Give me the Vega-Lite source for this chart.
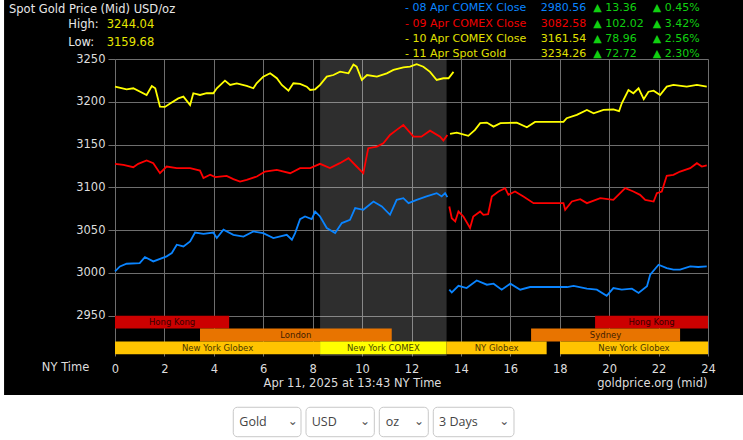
{
"$schema":"https://vega.github.io/schema/vega-lite/v6.json",
"width":593,"height":297,
"autosize":{"type":"none"},
"padding":{"left":115,"top":59,"right":35,"bottom":84},
"background":"black",
"config":{"view":{"stroke":null},"font":"DejaVu Sans","text":{"font":"DejaVu Sans","baseline":"middle","align":"left"}},
"datasets":{
"one":[{}],
"lines":[
{"w":"08 Apr","p":"pm","h":13.53,"v":2980.5},{"w":"08 Apr","p":"pm","h":13.63,"v":2977.3},{"w":"08 Apr","p":"pm","h":13.9,"v":2985},{"w":"08 Apr","p":"pm","h":14.23,"v":2982.4},{"w":"08 Apr","p":"pm","h":14.64,"v":2991.3},{"w":"08 Apr","p":"pm","h":15.05,"v":2986.3},{"w":"08 Apr","p":"pm","h":15.32,"v":2987.5},{"w":"08 Apr","p":"pm","h":15.65,"v":2980.5},{"w":"08 Apr","p":"pm","h":16.0,"v":2987.5},{"w":"08 Apr","p":"pm","h":16.4,"v":2980.5},{"w":"08 Apr","p":"pm","h":16.8,"v":2983.6},{"w":"08 Apr","p":"pm","h":18.3,"v":2983.6},{"w":"08 Apr","p":"pm","h":18.56,"v":2985},{"w":"08 Apr","p":"pm","h":19.1,"v":2981.7},{"w":"08 Apr","p":"pm","h":19.5,"v":2980.5},{"w":"08 Apr","p":"pm","h":19.9,"v":2973.4},{"w":"08 Apr","p":"pm","h":20.17,"v":2982.4},{"w":"08 Apr","p":"pm","h":20.51,"v":2980.5},{"w":"08 Apr","p":"pm","h":20.92,"v":2981.7},{"w":"08 Apr","p":"pm","h":21.19,"v":2976.6},{"w":"08 Apr","p":"pm","h":21.53,"v":2984.4},{"w":"08 Apr","p":"pm","h":21.66,"v":2998},{"w":"08 Apr","p":"pm","h":22.0,"v":3009.6},{"w":"08 Apr","p":"pm","h":22.33,"v":3005.7},{"w":"08 Apr","p":"pm","h":22.6,"v":3003.8},{"w":"08 Apr","p":"pm","h":22.87,"v":3003.8},{"w":"08 Apr","p":"pm","h":23.28,"v":3007.6},{"w":"08 Apr","p":"pm","h":23.6,"v":3007},{"w":"08 Apr","p":"pm","h":23.95,"v":3007.6},
{"w":"08 Apr","p":"am","h":0,"v":3001.8},{"w":"08 Apr","p":"am","h":0.2,"v":3007.6},{"w":"08 Apr","p":"am","h":0.47,"v":3010.8},{"w":"08 Apr","p":"am","h":1.0,"v":3011.5},{"w":"08 Apr","p":"am","h":1.21,"v":3018.6},{"w":"08 Apr","p":"am","h":1.55,"v":3013.5},{"w":"08 Apr","p":"am","h":2.09,"v":3019.4},{"w":"08 Apr","p":"am","h":2.3,"v":3023.3},{"w":"08 Apr","p":"am","h":2.5,"v":3033},{"w":"08 Apr","p":"am","h":2.77,"v":3031},{"w":"08 Apr","p":"am","h":3.04,"v":3036.8},{"w":"08 Apr","p":"am","h":3.24,"v":3047.3},{"w":"08 Apr","p":"am","h":3.58,"v":3045.8},{"w":"08 Apr","p":"am","h":3.98,"v":3047.3},{"w":"08 Apr","p":"am","h":4.12,"v":3040.8},{"w":"08 Apr","p":"am","h":4.39,"v":3050.5},{"w":"08 Apr","p":"am","h":4.79,"v":3044.6},{"w":"08 Apr","p":"am","h":5.2,"v":3042.6},{"w":"08 Apr","p":"am","h":5.6,"v":3048.5},{"w":"08 Apr","p":"am","h":6.0,"v":3046.6},{"w":"08 Apr","p":"am","h":6.41,"v":3040.8},{"w":"08 Apr","p":"am","h":6.95,"v":3044.6},{"w":"08 Apr","p":"am","h":7.16,"v":3038.8},{"w":"08 Apr","p":"am","h":7.29,"v":3046.6},{"w":"08 Apr","p":"am","h":7.49,"v":3062.9},{"w":"08 Apr","p":"am","h":7.69,"v":3066},{"w":"08 Apr","p":"am","h":7.96,"v":3062.9},{"w":"08 Apr","p":"am","h":8.1,"v":3071.8},{"w":"08 Apr","p":"am","h":8.3,"v":3066},{"w":"08 Apr","p":"am","h":8.57,"v":3052.5},{"w":"08 Apr","p":"am","h":8.91,"v":3046.6},{"w":"08 Apr","p":"am","h":9.18,"v":3058.3},{"w":"08 Apr","p":"am","h":9.51,"v":3062.1},{"w":"08 Apr","p":"am","h":9.72,"v":3075.8},{"w":"08 Apr","p":"am","h":10.05,"v":3073.8},{"w":"08 Apr","p":"am","h":10.46,"v":3083.5},{"w":"08 Apr","p":"am","h":10.8,"v":3077.7},{"w":"08 Apr","p":"am","h":11.13,"v":3068},{"w":"08 Apr","p":"am","h":11.4,"v":3085.5},{"w":"08 Apr","p":"am","h":11.67,"v":3087.4},{"w":"08 Apr","p":"am","h":11.88,"v":3081.6},{"w":"08 Apr","p":"am","h":12.21,"v":3085.5},{"w":"08 Apr","p":"am","h":12.61,"v":3089.4},{"w":"08 Apr","p":"am","h":13.02,"v":3093.3},{"w":"08 Apr","p":"am","h":13.22,"v":3089.4},{"w":"08 Apr","p":"am","h":13.36,"v":3093.3},{"w":"08 Apr","p":"am","h":13.45,"v":3088.6},
{"w":"09 Apr","p":"pm","h":13.53,"v":3077.7},{"w":"09 Apr","p":"pm","h":13.63,"v":3064},{"w":"09 Apr","p":"pm","h":13.77,"v":3060.2},{"w":"09 Apr","p":"pm","h":13.9,"v":3071.8},{"w":"09 Apr","p":"pm","h":14.1,"v":3066},{"w":"09 Apr","p":"pm","h":14.37,"v":3052.5},{"w":"09 Apr","p":"pm","h":14.5,"v":3066},{"w":"09 Apr","p":"pm","h":14.78,"v":3071.8},{"w":"09 Apr","p":"pm","h":14.91,"v":3068},{"w":"09 Apr","p":"pm","h":15.1,"v":3068.7},{"w":"09 Apr","p":"pm","h":15.25,"v":3089.4},{"w":"09 Apr","p":"pm","h":15.52,"v":3095.2},{"w":"09 Apr","p":"pm","h":15.79,"v":3099.1},{"w":"09 Apr","p":"pm","h":15.92,"v":3091.3},{"w":"09 Apr","p":"pm","h":16.19,"v":3095.2},{"w":"09 Apr","p":"pm","h":16.53,"v":3089.4},{"w":"09 Apr","p":"pm","h":16.94,"v":3081.6},{"w":"09 Apr","p":"pm","h":18.15,"v":3081.6},{"w":"09 Apr","p":"pm","h":18.22,"v":3073.8},{"w":"09 Apr","p":"pm","h":18.49,"v":3083.5},{"w":"09 Apr","p":"pm","h":18.83,"v":3086.3},{"w":"09 Apr","p":"pm","h":19.1,"v":3081.6},{"w":"09 Apr","p":"pm","h":19.64,"v":3087.4},{"w":"09 Apr","p":"pm","h":20.17,"v":3085.5},{"w":"09 Apr","p":"pm","h":20.65,"v":3099.1},{"w":"09 Apr","p":"pm","h":20.98,"v":3095.2},{"w":"09 Apr","p":"pm","h":21.25,"v":3091.3},{"w":"09 Apr","p":"pm","h":21.46,"v":3085.5},{"w":"09 Apr","p":"pm","h":21.8,"v":3083.5},{"w":"09 Apr","p":"pm","h":21.93,"v":3093.3},{"w":"09 Apr","p":"pm","h":22.13,"v":3095.2},{"w":"09 Apr","p":"pm","h":22.33,"v":3113.5},{"w":"09 Apr","p":"pm","h":22.6,"v":3114.7},{"w":"09 Apr","p":"pm","h":22.87,"v":3118.5},{"w":"09 Apr","p":"pm","h":23.28,"v":3122.5},{"w":"09 Apr","p":"pm","h":23.55,"v":3128.3},{"w":"09 Apr","p":"pm","h":23.75,"v":3124.4},{"w":"09 Apr","p":"pm","h":23.95,"v":3125.8},
{"w":"09 Apr","p":"am","h":0,"v":3127.5},{"w":"09 Apr","p":"am","h":0.34,"v":3126.3},{"w":"09 Apr","p":"am","h":0.74,"v":3123.6},{"w":"09 Apr","p":"am","h":0.94,"v":3127.5},{"w":"09 Apr","p":"am","h":1.28,"v":3131.4},{"w":"09 Apr","p":"am","h":1.55,"v":3128.3},{"w":"09 Apr","p":"am","h":1.82,"v":3116.6},{"w":"09 Apr","p":"am","h":2.09,"v":3124.4},{"w":"09 Apr","p":"am","h":2.5,"v":3122.5},{"w":"09 Apr","p":"am","h":3.04,"v":3122.5},{"w":"09 Apr","p":"am","h":3.44,"v":3119.7},{"w":"09 Apr","p":"am","h":3.58,"v":3110.8},{"w":"09 Apr","p":"am","h":3.85,"v":3114.7},{"w":"09 Apr","p":"am","h":4.05,"v":3112},{"w":"09 Apr","p":"am","h":4.52,"v":3113.5},{"w":"09 Apr","p":"am","h":4.79,"v":3109.6},{"w":"09 Apr","p":"am","h":5.06,"v":3106.8},{"w":"09 Apr","p":"am","h":5.33,"v":3108.8},{"w":"09 Apr","p":"am","h":5.74,"v":3112.7},{"w":"09 Apr","p":"am","h":6.07,"v":3118.5},{"w":"09 Apr","p":"am","h":6.55,"v":3120.5},{"w":"09 Apr","p":"am","h":7.09,"v":3116.6},{"w":"09 Apr","p":"am","h":7.49,"v":3122.5},{"w":"09 Apr","p":"am","h":7.9,"v":3122.5},{"w":"09 Apr","p":"am","h":8.3,"v":3127.5},{"w":"09 Apr","p":"am","h":8.7,"v":3122.5},{"w":"09 Apr","p":"am","h":9.1,"v":3128.3},{"w":"09 Apr","p":"am","h":9.45,"v":3134.2},{"w":"09 Apr","p":"am","h":9.78,"v":3124.4},{"w":"09 Apr","p":"am","h":10.05,"v":3116.5},{"w":"09 Apr","p":"am","h":10.25,"v":3145.8},{"w":"09 Apr","p":"am","h":10.6,"v":3147.7},{"w":"09 Apr","p":"am","h":10.86,"v":3151.6},{"w":"09 Apr","p":"am","h":11.13,"v":3161.3},{"w":"09 Apr","p":"am","h":11.4,"v":3167.2},{"w":"09 Apr","p":"am","h":11.67,"v":3173},{"w":"09 Apr","p":"am","h":12.08,"v":3159.3},{"w":"09 Apr","p":"am","h":12.4,"v":3159.3},{"w":"09 Apr","p":"am","h":12.75,"v":3166.3},{"w":"09 Apr","p":"am","h":13.16,"v":3159.3},{"w":"09 Apr","p":"am","h":13.29,"v":3154.7},{"w":"09 Apr","p":"am","h":13.45,"v":3161.3},
{"w":"10 Apr","p":"pm","h":13.56,"v":3162.5},{"w":"10 Apr","p":"pm","h":13.83,"v":3164},{"w":"10 Apr","p":"pm","h":14.3,"v":3160.2},{"w":"10 Apr","p":"pm","h":14.57,"v":3167.2},{"w":"10 Apr","p":"pm","h":14.78,"v":3175},{"w":"10 Apr","p":"pm","h":15.05,"v":3175.7},{"w":"10 Apr","p":"pm","h":15.32,"v":3171},{"w":"10 Apr","p":"pm","h":15.6,"v":3175},{"w":"10 Apr","p":"pm","h":16.26,"v":3175.7},{"w":"10 Apr","p":"pm","h":16.67,"v":3170.3},{"w":"10 Apr","p":"pm","h":17.0,"v":3176.5},{"w":"10 Apr","p":"pm","h":18.15,"v":3176.5},{"w":"10 Apr","p":"pm","h":18.28,"v":3180.8},{"w":"10 Apr","p":"pm","h":18.69,"v":3184.7},{"w":"10 Apr","p":"pm","h":19.1,"v":3190.5},{"w":"10 Apr","p":"pm","h":19.37,"v":3186.6},{"w":"10 Apr","p":"pm","h":19.77,"v":3190.5},{"w":"10 Apr","p":"pm","h":20.17,"v":3191},{"w":"10 Apr","p":"pm","h":20.4,"v":3189},{"w":"10 Apr","p":"pm","h":20.51,"v":3198.3},{"w":"10 Apr","p":"pm","h":20.78,"v":3213.8},{"w":"10 Apr","p":"pm","h":20.98,"v":3210},{"w":"10 Apr","p":"pm","h":21.19,"v":3215.8},{"w":"10 Apr","p":"pm","h":21.4,"v":3203},{"w":"10 Apr","p":"pm","h":21.59,"v":3211.8},{"w":"10 Apr","p":"pm","h":21.8,"v":3213},{"w":"10 Apr","p":"pm","h":22.06,"v":3208},{"w":"10 Apr","p":"pm","h":22.33,"v":3217.7},{"w":"10 Apr","p":"pm","h":22.6,"v":3219.7},{"w":"10 Apr","p":"pm","h":23.14,"v":3217.7},{"w":"10 Apr","p":"pm","h":23.55,"v":3219.7},{"w":"10 Apr","p":"pm","h":23.95,"v":3217.7},
{"w":"10 Apr","p":"am","h":0,"v":3217.7},{"w":"10 Apr","p":"am","h":0.47,"v":3214.6},{"w":"10 Apr","p":"am","h":0.74,"v":3215.8},{"w":"10 Apr","p":"am","h":1.28,"v":3208},{"w":"10 Apr","p":"am","h":1.49,"v":3218.5},{"w":"10 Apr","p":"am","h":1.63,"v":3215.8},{"w":"10 Apr","p":"am","h":1.82,"v":3194.3},{"w":"10 Apr","p":"am","h":2.02,"v":3194},{"w":"10 Apr","p":"am","h":2.23,"v":3198},{"w":"10 Apr","p":"am","h":2.56,"v":3204},{"w":"10 Apr","p":"am","h":2.77,"v":3206},{"w":"10 Apr","p":"am","h":3.04,"v":3196.3},{"w":"10 Apr","p":"am","h":3.17,"v":3210},{"w":"10 Apr","p":"am","h":3.44,"v":3208},{"w":"10 Apr","p":"am","h":3.71,"v":3210},{"w":"10 Apr","p":"am","h":3.98,"v":3210},{"w":"10 Apr","p":"am","h":4.12,"v":3215.8},{"w":"10 Apr","p":"am","h":4.45,"v":3224.7},{"w":"10 Apr","p":"am","h":4.66,"v":3219.7},{"w":"10 Apr","p":"am","h":4.93,"v":3221.6},{"w":"10 Apr","p":"am","h":5.33,"v":3218.5},{"w":"10 Apr","p":"am","h":5.6,"v":3215.8},{"w":"10 Apr","p":"am","h":5.73,"v":3221.6},{"w":"10 Apr","p":"am","h":6.0,"v":3229.4},{"w":"10 Apr","p":"am","h":6.28,"v":3233.3},{"w":"10 Apr","p":"am","h":6.55,"v":3227.5},{"w":"10 Apr","p":"am","h":6.75,"v":3219.7},{"w":"10 Apr","p":"am","h":7.02,"v":3213},{"w":"10 Apr","p":"am","h":7.22,"v":3221.6},{"w":"10 Apr","p":"am","h":7.49,"v":3221},{"w":"10 Apr","p":"am","h":7.76,"v":3217.7},{"w":"10 Apr","p":"am","h":7.9,"v":3213.8},{"w":"10 Apr","p":"am","h":8.1,"v":3214.6},{"w":"10 Apr","p":"am","h":8.3,"v":3219.7},{"w":"10 Apr","p":"am","h":8.57,"v":3229.4},{"w":"10 Apr","p":"am","h":8.84,"v":3231.3},{"w":"10 Apr","p":"am","h":9.11,"v":3235.2},{"w":"10 Apr","p":"am","h":9.45,"v":3233.3},{"w":"10 Apr","p":"am","h":9.65,"v":3243.5},{"w":"10 Apr","p":"am","h":9.78,"v":3241},{"w":"10 Apr","p":"am","h":9.99,"v":3225.5},{"w":"10 Apr","p":"am","h":10.2,"v":3231.3},{"w":"10 Apr","p":"am","h":10.6,"v":3229.4},{"w":"10 Apr","p":"am","h":11.0,"v":3233.3},{"w":"10 Apr","p":"am","h":11.27,"v":3237.2},{"w":"10 Apr","p":"am","h":11.67,"v":3240.3},{"w":"10 Apr","p":"am","h":11.94,"v":3241},{"w":"10 Apr","p":"am","h":12.21,"v":3244},{"w":"10 Apr","p":"am","h":12.48,"v":3241},{"w":"10 Apr","p":"am","h":12.75,"v":3235},{"w":"10 Apr","p":"am","h":13.02,"v":3225.5},{"w":"10 Apr","p":"am","h":13.29,"v":3227.5},{"w":"10 Apr","p":"am","h":13.5,"v":3227.5},{"w":"10 Apr","p":"am","h":13.7,"v":3235}
],
"sessions":[
{"id":1,"name":"Hong Kong","row":"top","start":0,"end":4.62},
{"id":2,"name":"Hong Kong","row":"top","start":19.43,"end":24},
{"id":3,"name":"London","row":"mid","start":3.44,"end":11.2},
{"id":4,"name":"Sydney","row":"mid","start":16.84,"end":22.87},
{"id":5,"name":"New York Globex","row":"bottom","start":0,"end":8.3},
{"id":6,"name":"New York COMEX","row":"bottom","start":8.3,"end":13.42},
{"id":7,"name":"NY Globex","row":"bottom","start":13.42,"end":17.47},
{"id":8,"name":"New York Globex","row":"bottom","start":18.01,"end":24}
],
"legend":[
{"day":"08 Apr","label":"- 08 Apr COMEX Close","close":"2980.56","change":"▲ 13.36","pct":"▲ 0.45%"},
{"day":"09 Apr","label":"- 09 Apr COMEX Close","close":"3082.58","change":"▲ 102.02","pct":"▲ 3.42%"},
{"day":"10 Apr","label":"- 10 Apr COMEX Close","close":"3161.54","change":"▲ 78.96","pct":"▲ 2.56%"},
{"day":"11 Apr","label":"- 11 Apr Spot Gold","close":"3234.26","change":"▲ 72.72","pct":"▲ 2.30%"}
],
"stats":[
{"stat":"High:","value":"3244.04"},
{"stat":"Low:","value":"3159.68"}
]
},
"layer":[
{"data":{"name":"one"},"mark":{"type":"rect","fill":"#ffffff","opacity":0.18},
 "encoding":{"x":{"datum":8.3},"x2":{"datum":13.42}}},
{"data":{"name":"lines"},
 "mark":{"type":"line","strokeWidth":1.8,"interpolate":"linear"},
 "encoding":{
  "x":{"field":"h","type":"quantitative","title":null,"scale":{"domain":[0,24],"nice":false,"zero":false},
   "axis":{"values":[0,2,4,6,8,10,12,14,16,18,20,22,24],"grid":true,"gridColor":"#6e6e6e","gridWidth":1,"domain":false,"ticks":false,"labelPadding":7,"labelColor":"#dddddd","labelFont":"DejaVu Sans","labelFontSize":11.5,"labelFlush":false,"title":null}},
  "y":{"field":"v","type":"quantitative","title":null,"scale":{"domain":[2903,3250],"nice":false,"zero":false},
   "axis":{"values":[2950,3000,3050,3100,3150,3200,3250],"format":"d","grid":true,"gridColor":"#6e6e6e","gridWidth":1,"domain":false,"ticks":true,"tickSize":7,"tickColor":"#6e6e6e","labelPadding":3,"labelColor":"#dddddd","labelFont":"DejaVu Sans","labelFontSize":11.5,"title":null}},
  "stroke":{"field":"w","type":"nominal","scale":{"domain":["08 Apr","09 Apr","10 Apr"],"range":["#0a84ff","#ff0000","#ffff00"]},"legend":null},
  "detail":{"field":"p"},
  "order":{"field":"h","type":"quantitative"}
 }},
{"data":{"name":"one"},"mark":{"type":"rect","fill":"#ffffff"},
 "encoding":{"x":{"datum":-6},"x2":{"datum":27},"y":{"datum":2857.4},"y2":{"datum":2770}}},
{"data":{"name":"one"},"mark":{"type":"rect","fill":"#ffffff"},
 "encoding":{"x":{"datum":-6},"x2":{"datum":-4.49},"y":{"datum":3330},"y2":{"datum":2857.4}}},
{"data":{"name":"sessions"},
 "layer":[
  {"transform":[{"filter":"datum.row == 'top'"}],"mark":{"type":"rect"},
   "encoding":{"x":{"field":"start","type":"quantitative"},"x2":{"field":"end"},"y":{"datum":2950},"y2":{"datum":2935},
    "fill":{"field":"name","type":"nominal","scale":{"domain":["Hong Kong","London","Sydney","New York Globex","New York COMEX","NY Globex"],"range":["#cc0000","#e87400","#e87400","#ffc400","#ffff00","#ffc400"]},"legend":null}}},
  {"transform":[{"filter":"datum.row == 'mid'"}],"mark":{"type":"rect"},
   "encoding":{"x":{"field":"start","type":"quantitative"},"x2":{"field":"end"},"y":{"datum":2935},"y2":{"datum":2920},
    "fill":{"field":"name","type":"nominal","legend":null}}},
  {"transform":[{"filter":"datum.row == 'bottom'"}],"mark":{"type":"rect"},
   "encoding":{"x":{"field":"start","type":"quantitative"},"x2":{"field":"end"},"y":{"datum":2920},"y2":{"datum":2905},
    "fill":{"field":"name","type":"nominal","legend":null}}},
  {"transform":[{"filter":"datum.row == 'top'"},{"fold":["start","end"],"as":["edge","hour"]}],
   "mark":{"type":"text","align":"center","fontSize":8.5,"fill":"#000000","opacity":0.75},
   "encoding":{"x":{"aggregate":"mean","field":"hour","type":"quantitative"},"y":{"datum":2942.5},"text":{"field":"name"},"detail":{"field":"id"}}},
  {"transform":[{"filter":"datum.row == 'mid'"},{"fold":["start","end"],"as":["edge","hour"]}],
   "mark":{"type":"text","align":"center","fontSize":8.5,"fill":"#000000","opacity":0.75},
   "encoding":{"x":{"aggregate":"mean","field":"hour","type":"quantitative"},"y":{"datum":2927.5},"text":{"field":"name"},"detail":{"field":"id"}}},
  {"transform":[{"filter":"datum.row == 'bottom'"},{"fold":["start","end"],"as":["edge","hour"]}],
   "mark":{"type":"text","align":"center","fontSize":8.5,"fill":"#000000","opacity":0.75},
   "encoding":{"x":{"aggregate":"mean","field":"hour","type":"quantitative"},"y":{"datum":2912.5},"text":{"field":"name"},"detail":{"field":"id"}}}
 ]},
{"data":{"name":"one"},"mark":{"type":"text","text":"Spot Gold Price (Mid) USD/oz","fontSize":11.5,"fill":"#e8e8e8"},
 "encoding":{"x":{"datum":-4.29},"y":{"datum":3307.2}}},
{"data":{"name":"stats"},"transform":[{"filter":"datum.stat == 'High:'"}],
 "encoding":{"y":{"datum":3289.7}},
 "layer":[
  {"mark":{"type":"text","fontSize":11.5,"fill":"#e8e8e8"},"encoding":{"x":{"datum":-1.89},"text":{"field":"stat"}}},
  {"mark":{"type":"text","fontSize":11.5,"fill":"#e6e600"},"encoding":{"x":{"datum":-0.336},"text":{"field":"value"}}}
 ]},
{"data":{"name":"stats"},"transform":[{"filter":"datum.stat == 'Low:'"}],
 "encoding":{"y":{"datum":3268.7}},
 "layer":[
  {"mark":{"type":"text","fontSize":11.5,"fill":"#e8e8e8"},"encoding":{"x":{"datum":-1.89},"text":{"field":"stat"}}},
  {"mark":{"type":"text","fontSize":11.5,"fill":"#e6e600"},"encoding":{"x":{"datum":-0.336},"text":{"field":"value"}}}
 ]},
{"data":{"name":"legend"},"transform":[{"filter":"datum.day == '08 Apr'"}],
 "encoding":{"y":{"datum":3309.2}},
 "layer":[
  {"mark":{"type":"text","fontSize":11,"fill":"#0a84ff"},"encoding":{"x":{"datum":11.737},"text":{"field":"label"}}},
  {"mark":{"type":"text","fontSize":11,"fill":"#0a84ff"},"encoding":{"x":{"datum":17.229},"text":{"field":"close"}}},
  {"mark":{"type":"text","fontSize":11,"fill":"#10d010"},"encoding":{"x":{"datum":19.358},"text":{"field":"change"}}},
  {"mark":{"type":"text","fontSize":11,"fill":"#10d010"},"encoding":{"x":{"datum":21.762},"text":{"field":"pct"}}}
 ]},
{"data":{"name":"legend"},"transform":[{"filter":"datum.day == '09 Apr'"}],
 "encoding":{"y":{"datum":3290.9}},
 "layer":[
  {"mark":{"type":"text","fontSize":11,"fill":"#f00000"},"encoding":{"x":{"datum":11.737},"text":{"field":"label"}}},
  {"mark":{"type":"text","fontSize":11,"fill":"#f00000"},"encoding":{"x":{"datum":17.229},"text":{"field":"close"}}},
  {"mark":{"type":"text","fontSize":11,"fill":"#10d010"},"encoding":{"x":{"datum":19.358},"text":{"field":"change"}}},
  {"mark":{"type":"text","fontSize":11,"fill":"#10d010"},"encoding":{"x":{"datum":21.762},"text":{"field":"pct"}}}
 ]},
{"data":{"name":"legend"},"transform":[{"filter":"datum.day == '10 Apr'"}],
 "encoding":{"y":{"datum":3273.0}},
 "layer":[
  {"mark":{"type":"text","fontSize":11,"fill":"#e0e000"},"encoding":{"x":{"datum":11.737},"text":{"field":"label"}}},
  {"mark":{"type":"text","fontSize":11,"fill":"#e0e000"},"encoding":{"x":{"datum":17.229},"text":{"field":"close"}}},
  {"mark":{"type":"text","fontSize":11,"fill":"#10d010"},"encoding":{"x":{"datum":19.358},"text":{"field":"change"}}},
  {"mark":{"type":"text","fontSize":11,"fill":"#10d010"},"encoding":{"x":{"datum":21.762},"text":{"field":"pct"}}}
 ]},
{"data":{"name":"legend"},"transform":[{"filter":"datum.day == '11 Apr'"}],
 "encoding":{"y":{"datum":3255.8}},
 "layer":[
  {"mark":{"type":"text","fontSize":11,"fill":"#e0e000"},"encoding":{"x":{"datum":11.737},"text":{"field":"label"}}},
  {"mark":{"type":"text","fontSize":11,"fill":"#e0e000"},"encoding":{"x":{"datum":17.229},"text":{"field":"close"}}},
  {"mark":{"type":"text","fontSize":11,"fill":"#10d010"},"encoding":{"x":{"datum":19.358},"text":{"field":"change"}}},
  {"mark":{"type":"text","fontSize":11,"fill":"#10d010"},"encoding":{"x":{"datum":21.762},"text":{"field":"pct"}}}
 ]},
{"data":{"name":"one"},"mark":{"type":"text","text":"NY Time","align":"right","fontSize":11.5,"fill":"#dddddd"},
 "encoding":{"x":{"datum":-1.04},"y":{"datum":2888.4}}},
{"data":{"name":"one"},"mark":{"type":"text","text":"Apr 11, 2025 at 13:43 NY Time","align":"center","fontSize":11.5,"fill":"#dddddd"},
 "encoding":{"x":{"datum":9.612},"y":{"datum":2870.3}}},
{"data":{"name":"one"},"mark":{"type":"text","text":"goldprice.org (mid)","align":"right","fontSize":11.5,"fill":"#dddddd"},
 "encoding":{"x":{"datum":23.98},"y":{"datum":2870.3}}},
{"data":{"name":"one"},"mark":{"type":"rect","fill":"#ffffff","stroke":"#c8c8c8","strokeWidth":1,"cornerRadius":4},
 "encoding":{"x":{"datum":4.787},"x2":{"datum":7.528},"y":{"datum":2843.1},"y2":{"datum":2808.7}}},
{"data":{"name":"one"},"mark":{"type":"rect","fill":"#ffffff","stroke":"#c8c8c8","strokeWidth":1,"cornerRadius":4},
 "encoding":{"x":{"datum":7.73},"x2":{"datum":10.495},"y":{"datum":2843.1},"y2":{"datum":2808.7}}},
{"data":{"name":"one"},"mark":{"type":"rect","fill":"#ffffff","stroke":"#c8c8c8","strokeWidth":1,"cornerRadius":4},
 "encoding":{"x":{"datum":10.697},"x2":{"datum":12.68},"y":{"datum":2843.1},"y2":{"datum":2808.7}}},
{"data":{"name":"one"},"mark":{"type":"rect","fill":"#ffffff","stroke":"#c8c8c8","strokeWidth":1,"cornerRadius":4},
 "encoding":{"x":{"datum":12.882},"x2":{"datum":16.148},"y":{"datum":2843.1},"y2":{"datum":2808.7}}},
{"data":{"name":"one"},"mark":{"type":"text","text":"Gold","font":"Open Sans","fontSize":12.5,"fill":"#444444"},"encoding":{"x":{"datum":5.031},"y":{"datum":2825.9}}},
{"data":{"name":"one"},"mark":{"type":"text","text":"USD","font":"Open Sans","fontSize":12.5,"fill":"#444444"},"encoding":{"x":{"datum":7.961},"y":{"datum":2825.9}}},
{"data":{"name":"one"},"mark":{"type":"text","text":"oz","font":"Open Sans","fontSize":12.5,"fill":"#444444"},"encoding":{"x":{"datum":10.956},"y":{"datum":2825.9}}},
{"data":{"name":"one"},"mark":{"type":"text","text":"3 Days","font":"Open Sans","fontSize":12.5,"fill":"#444444"},"encoding":{"x":{"datum":13.113},"y":{"datum":2825.9}}},
{"data":{"name":"one"},"mark":{"type":"text","text":"⌄","align":"center","font":"DejaVu Sans","fontSize":12,"fill":"#555555"},"encoding":{"x":{"datum":7.192},"y":{"datum":2827.5}}},
{"data":{"name":"one"},"mark":{"type":"text","text":"⌄","align":"center","font":"DejaVu Sans","fontSize":12,"fill":"#555555"},"encoding":{"x":{"datum":10.118},"y":{"datum":2827.5}}},
{"data":{"name":"one"},"mark":{"type":"text","text":"⌄","align":"center","font":"DejaVu Sans","fontSize":12,"fill":"#555555"},"encoding":{"x":{"datum":12.304},"y":{"datum":2827.5}}},
{"data":{"name":"one"},"mark":{"type":"text","text":"⌄","align":"center","font":"DejaVu Sans","fontSize":12,"fill":"#555555"},"encoding":{"x":{"datum":15.756},"y":{"datum":2827.5}}}
]
}
